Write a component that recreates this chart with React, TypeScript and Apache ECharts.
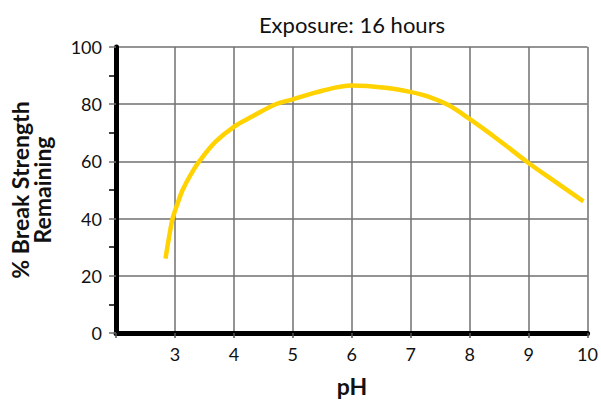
import React, { useEffect, useRef } from "react";
import * as echarts from "echarts";

const phValues = [2.84, 2.9, 2.96, 3.04, 3.13, 3.27, 3.43, 3.69, 4.0, 4.3, 4.71, 5.0, 5.5, 6.0, 6.63, 6.97, 7.31, 7.64, 7.98, 8.49, 8.97, 9.45, 9.93];
const strengthValues = [26, 33.5, 40, 45, 50, 55.5, 60.5, 66.9, 72.1, 75.6, 80, 81.7, 84.7, 86.5, 85.6, 84.4, 82.6, 79.7, 75.1, 67.5, 59.9, 52.9, 46];
const titleText = "Exposure: 16 hours";
const xName = "pH";
const yName = "% Break Strength\nRemaining";

const FONT = "Lato, 'Open Sans', 'DejaVu Sans', sans-serif";

export default function App() {
  const ref = useRef<HTMLDivElement>(null);
  useEffect(() => {
    if (!ref.current) return;
    const chart = echarts.init(ref.current, null, { renderer: "svg" });
    const data = phValues.map((x, i) => [x, strengthValues[i]]);
    chart.setOption({
      animation: false,
      backgroundColor: "#fff",
      textStyle: { fontFamily: FONT },
      grid: { left: 116, right: 12, top: 47, bottom: 72, containLabel: false },
      xAxis: {
        type: "value",
        min: 2,
        max: 10,
        interval: 1,
        axisLine: { show: true, onZero: false, lineStyle: { color: "#000", width: 5 } },
        axisTick: { show: true, length: 5, lineStyle: { color: "#555", width: 1.5 } },
        axisLabel: {
          margin: 12,
          fontSize: 18,
          color: "#111",
          fontFamily: FONT,
          formatter: (v: number) => (v === 2 ? "" : String(v)),
        },
        splitLine: { show: true, lineStyle: { color: "#707070", width: 1.5 } },
      },
      yAxis: {
        type: "value",
        min: 0,
        max: 100,
        interval: 20,
        axisLine: { show: true, lineStyle: { color: "#000", width: 5 } },
        axisTick: { show: true, length: 7, lineStyle: { color: "#707070", width: 1.5 } },
        minorTick: { show: true, splitNumber: 2, length: 7, lineStyle: { color: "#000", width: 1.5 } },
        axisLabel: { margin: 14, fontSize: 18, color: "#111", fontFamily: FONT },
        splitLine: { show: true, lineStyle: { color: "#707070", width: 1.5 } },
      },
      series: [
        {
          type: "line",
          data,
          smooth: 0.35,
          showSymbol: false,
          lineStyle: { color: "#FFD200", width: 4.5 },
          z: 5,
        },
      ],
      graphic: [
        {
          type: "text",
          x: 352,
          y: 24,
          style: { text: titleText, font: `22px ${FONT}`, fill: "#111", align: "center", verticalAlign: "middle" },
        },
        {
          type: "text",
          x: 352,
          y: 386,
          style: { text: xName, font: `bold 23px ${FONT}`, fill: "#111", align: "center", verticalAlign: "middle" },
        },
        {
          type: "text",
          x: 31,
          y: 190,
          rotation: Math.PI / 2,
          style: {
            text: yName,
            font: `bold 23px ${FONT}`,
            fill: "#111",
            align: "center",
            verticalAlign: "middle",
            lineHeight: 22,
          },
        },
      ],
    });
    return () => chart.dispose();
  }, []);
  return <div ref={ref} style={{ position: "fixed", left: 0, top: 0, width: 601, height: 405 }} />;
}
